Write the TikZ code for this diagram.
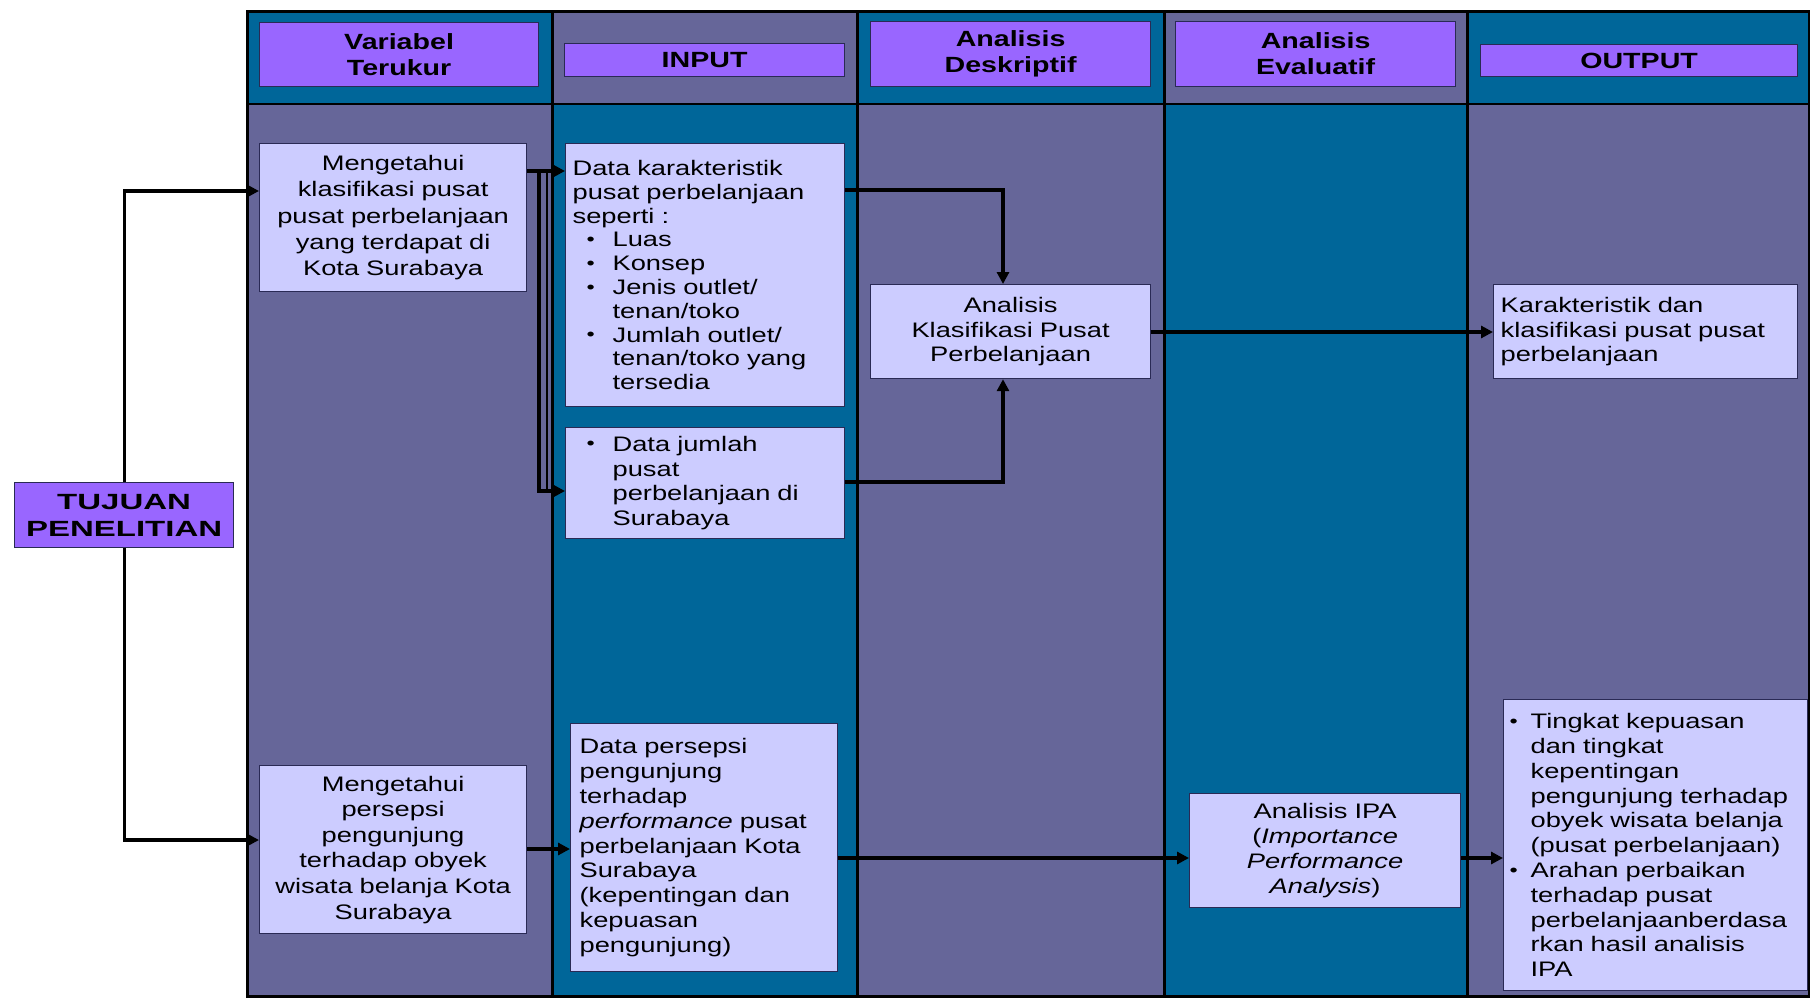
\documentclass[tikz,border=0pt]{standalone}
\usepackage{fontspec}
\setmainfont{Liberation Sans}[FakeStretch=1.3]
\newfontfamily\widefont{Liberation Sans}[FakeStretch=1.5]
\usetikzlibrary{arrows.meta}
\definecolor{colTeal}{HTML}{006699}
\definecolor{colGrey}{HTML}{666699}
\definecolor{hdrfill}{HTML}{9966FF}
\definecolor{bodyfill}{HTML}{CCCCFF}
\definecolor{boxline}{HTML}{2A2A55}
\newcommand\smbul{\raisebox{0.7pt}{\fontsize{9}{9}\selectfont\textbullet}}
\newcommand\bul{\hspace*{7pt}\makebox[13pt][l]{\smbul}}
\newcommand\ind{\hspace*{20pt}}
\newcommand\bulb{\makebox[11.5pt][l]{\hspace*{1pt}\smbul}}
\newcommand\indb{\hspace*{11.5pt}}
\begin{document}
\begin{tikzpicture}[x=0.5pt,y=-0.5pt,
  hbox/.style={draw=boxline, line width=0.6pt, fill=hdrfill, anchor=north west, inner sep=0pt, align=center, font=\fontsize{11}{13}\selectfont\bfseries},
  bbox/.style={draw=boxline, line width=0.6pt, fill=bodyfill, anchor=north west, font=\fontsize{10.5}{12.4}\selectfont},
  arr/.style={line width=1.6pt, -{Triangle[length=6pt,width=6pt]}},
  ln/.style={line width=1.6pt}]
\useasboundingbox[fill=white] (0,0) rectangle (1810,1001);
% column panels
\foreach \xa/\xb/\ch/\cb in {247/552/colTeal/colGrey, 552/857/colGrey/colTeal, 857/1164/colTeal/colGrey, 1164/1467/colGrey/colTeal, 1467/1810/colTeal/colGrey}{
  \fill[\ch] (\xa,11) rectangle (\xb,104);
  \fill[\cb] (\xa,104) rectangle (\xb,996);
}
\draw[line width=1pt] (247,104) -- (1809,104);
\foreach \xd in {552,857,1164,1467}{\draw[line width=1.5pt] (\xd,11) -- (\xd,996);}
\draw[line width=1.5pt] (247,11) rectangle (1809,996);

% header boxes
\node[hbox, minimum width=139.5pt, minimum height=32pt] (vt) at (259,22) {Variabel\\Terukur};
\node[hbox, minimum width=140pt, minimum height=16.5pt] (inp) at (564,43) {INPUT};
\node[hbox, minimum width=140pt, minimum height=32.5pt] (ad) at (870,21) {Analisis\\Deskriptif};
\node[hbox, minimum width=140pt, minimum height=32.5pt] (ae) at (1175,21) {Analisis\\Evaluatif};
\node[hbox, minimum width=158.5pt, minimum height=16pt] (outh) at (1480,44) {OUTPUT};

% tujuan
\node[hbox, minimum width=109.5pt, minimum height=32.5pt, font=\widefont\fontsize{11}{13.5}\selectfont\bfseries] (tuj) at (14,482) {TUJUAN\\PENELITIAN};

% body boxes
\node[bbox, minimum height=74pt, text width=127.5pt, inner xsep=3pt, align=center, font=\fontsize{10.5}{13.2}\selectfont] (klas) at (259,143)
  {Mengetahui\\klasifikasi pusat\\pusat perbelanjaan\\yang terdapat di\\Kota Surabaya};
\node[bbox, minimum height=131.5pt, text width=132.5pt, inner xsep=3.5pt, align=left, font=\fontsize{10.5}{11.9}\selectfont] (datakar) at (565,143)
  {Data karakteristik\\pusat perbelanjaan\\seperti :\\\bul Luas\\\bul Konsep\\\bul Jenis outlet/\\\ind tenan/toko\\\bul Jumlah outlet/\\\ind tenan/toko yang\\\ind tersedia};
\node[bbox, minimum height=55.5pt, text width=132.5pt, inner xsep=3.5pt, align=left] (datajml) at (565,427)
  {\bul Data jumlah\\\ind pusat\\\ind perbelanjaan di\\\ind Surabaya};
\node[bbox, minimum height=47pt, text width=134pt, inner xsep=3pt, align=center] (anklas) at (870,284)
  {Analisis\\Klasifikasi Pusat\\Perbelanjaan};
\node[bbox, minimum height=47pt, text width=145pt, inner xsep=3.5pt, align=left] (outkar) at (1493,284)
  {Karakteristik dan\\klasifikasi pusat pusat\\perbelanjaan};
\node[bbox, minimum height=84pt, text width=127.5pt, inner xsep=3pt, align=center, font=\fontsize{10.5}{12.8}\selectfont] (pers) at (259,765)
  {Mengetahui\\persepsi\\pengunjung\\terhadap obyek\\wisata belanja Kota\\Surabaya};
\node[bbox, minimum height=124pt, text width=124.5pt, inner xsep=4.5pt, align=left] (datapers) at (570,723)
  {Data persepsi\\pengunjung\\terhadap\\\textit{performance} pusat\\perbelanjaan Kota\\Surabaya\\(kepentingan dan\\kepuasan\\pengunjung)};
\node[bbox, minimum height=57pt, text width=129.5pt, inner xsep=3pt, align=center] (ipa) at (1189,793)
  {Analisis IPA\\(\textit{Importance}\\\textit{Performance}\\\textit{Analysis})};
\node[bbox, minimum height=145.5pt, text width=148pt, inner xsep=2pt, align=left] (outb) at (1503,699)
  {\bulb Tingkat kepuasan\\\indb dan tingkat\\\indb kepentingan\\\indb pengunjung terhadap\\\indb obyek wisata belanja\\\indb (pusat perbelanjaan)\\\bulb Arahan perbaikan\\\indb terhadap pusat\\\indb perbelanjaanberdasa\\\indb rkan hasil analisis\\\indb IPA};

% helper coordinates
\coordinate (ya) at (0,191);
\coordinate (yb) at (0,840);
\coordinate (yk) at (0,171);
\coordinate (yj) at (0,491);
\coordinate (vk) at (539,0);
\coordinate (yd) at (0,190);
\coordinate (ye) at (0,482);
\coordinate (vx) at (1003,0);
\coordinate (yf) at (0,332);
\coordinate (yg) at (0,849);
\coordinate (yh) at (0,858);

% connectors
\draw[arr] (tuj.north) |- (klas.west |- ya);
\draw[arr] (tuj.south) |- (pers.west |- yb);
\draw[arr] (klas.east |- yk) -- (datakar.west |- yk);
\draw[arr] (vk |- yk) -- (vk |- yj) -- (datajml.west |- yj);
\draw[line width=0.8pt] (547,172) -- (547,490);
\draw[arr] (datakar.east |- yd) -| (vx |- anklas.north);
\draw[arr] (datajml.east |- ye) -| (vx |- anklas.south);
\draw[arr] (anklas.east |- yf) -- (outkar.west |- yf);
\draw[arr] (pers.east |- yg) -- (datapers.west |- yg);
\draw[arr] (datapers.east |- yh) -- (ipa.west |- yh);
\draw[arr] (ipa.east |- yh) -- (outb.west |- yh);
\end{tikzpicture}
\end{document}
